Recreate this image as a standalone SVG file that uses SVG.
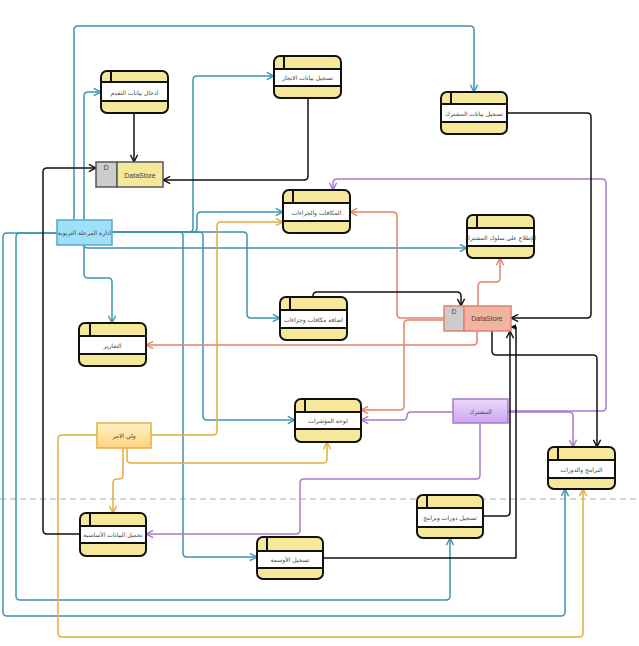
<svg xmlns="http://www.w3.org/2000/svg" width="639" height="646" viewBox="0 0 639 646">
<defs>
<style>
.bg{fill:#ffffff}
.c{fill:none;stroke-width:1.5;stroke-linejoin:round}
.bl{stroke:#3f93b4}
.or{stroke:#e3ad3a}
.pu{stroke:#a57bd0}
.sa{stroke:#e2836a}
.bk{stroke:#111111}
.pf{fill:#f5e89b}
.pb{fill:#ffffff}
.po{fill:none;stroke:#111;stroke-width:2}
.pl{stroke:#111;stroke-width:2}
.t{font-family:"DejaVu Sans","Noto Sans",sans-serif;font-size:6px;fill:#444;text-anchor:middle;dominant-baseline:central}
.ds{font-family:"Liberation Sans",Arial,sans-serif;font-size:7px;text-anchor:middle;dominant-baseline:central}
</style>
<marker id="aBl" viewBox="0 0 10 10" refX="9" refY="5" markerWidth="9" markerHeight="9" markerUnits="userSpaceOnUse" orient="auto"><path d="M1,1 L9,5 L1,9" fill="none" stroke="#3f93b4" stroke-width="1.6"/></marker>
<marker id="aOr" viewBox="0 0 10 10" refX="9" refY="5" markerWidth="9" markerHeight="9" markerUnits="userSpaceOnUse" orient="auto"><path d="M1,1 L9,5 L1,9" fill="none" stroke="#e3ad3a" stroke-width="1.6"/></marker>
<marker id="aPu" viewBox="0 0 10 10" refX="9" refY="5" markerWidth="9" markerHeight="9" markerUnits="userSpaceOnUse" orient="auto"><path d="M1,1 L9,5 L1,9" fill="none" stroke="#a57bd0" stroke-width="1.6"/></marker>
<marker id="aSa" viewBox="0 0 10 10" refX="9" refY="5" markerWidth="9" markerHeight="9" markerUnits="userSpaceOnUse" orient="auto"><path d="M1,1 L9,5 L1,9" fill="none" stroke="#e2836a" stroke-width="1.6"/></marker>
<marker id="aBk" viewBox="0 0 10 10" refX="9" refY="5" markerWidth="9" markerHeight="9" markerUnits="userSpaceOnUse" orient="auto"><path d="M1,1 L9,5 L1,9" fill="none" stroke="#111" stroke-width="1.6"/></marker>
<marker id="aBkF" viewBox="0 0 10 10" refX="9" refY="5" markerWidth="6" markerHeight="6" markerUnits="userSpaceOnUse" orient="auto"><path d="M1,1 L9,5 L1,9 z" fill="#111" stroke="#111"/></marker>
<linearGradient id="gOr" x1="0" y1="0" x2="0" y2="1"><stop offset="0" stop-color="#fff2c8"/><stop offset="1" stop-color="#fdd37f"/></linearGradient>
<linearGradient id="gPu" x1="0" y1="0" x2="0" y2="1"><stop offset="0" stop-color="#ecd9fb"/><stop offset="1" stop-color="#cda6f0"/></linearGradient>
</defs>
<rect class="bg" x="0" y="0" width="639" height="646"/>
<line x1="0" y1="499" x2="639" y2="499" stroke="#aaaaaa" stroke-width="1" stroke-dasharray="6,4"/>

<g id="connectors">
<!-- blue from ادارة المرحلة التربوية -->
<path class="c bl" d="M74,220 V30 Q74,26 78,26 H470 Q474,26 474,30 V92" marker-end="url(#aBl)"/>
<path class="c bl" d="M84,220 V96 Q84,92 88,92 H101" marker-end="url(#aBl)"/>
<path class="c bl" d="M112,232 H189 Q193,232 193,228 V80 Q193,76 197,76 H274" marker-end="url(#aBl)"/>
<path class="c bl" d="M112,232 H193 Q197,232 197,228 V216 Q197,212 201,212 H283" marker-end="url(#aBl)"/>
<path class="c bl" d="M84,245 Q84,248 88,248 H467" marker-end="url(#aBl)"/>
<path class="c bl" d="M84,245 V274 Q84,278 88,278 H108 Q112,278 112,282 V323" marker-end="url(#aBl)"/>
<path class="c bl" d="M112,232 H179 Q183,232 183,236 V553 Q183,557 187,557 H257" marker-end="url(#aBl)"/>
<path class="c bl" d="M112,232 H199 Q203,232 203,236 V416 Q203,420 207,420 H295" marker-end="url(#aBl)"/>
<path class="c bl" d="M112,232 H243 Q247,232 247,236 V314 Q247,318 251,318 H280" marker-end="url(#aBl)"/>
<path class="c bl" d="M57,233 H20 Q16,233 16,237 V596 Q16,600 20,600 H446 Q450,600 450,596 V538" marker-end="url(#aBl)"/>
<path class="c bl" d="M57,233 H7 Q3,233 3,237 V612 Q3,616 7,616 H561 Q565,616 565,612 V489" marker-end="url(#aBl)"/>
<!-- orange from ولي الامر -->
<path class="c or" d="M97,435 H62 Q58,435 58,439 V633 Q58,637 62,637 H579 Q583,637 583,633 V489" marker-end="url(#aOr)"/>
<path class="c or" d="M151,435 H213 Q217,435 217,431 V226 Q217,222 221,222 H283" marker-end="url(#aOr)"/>
<path class="c or" d="M127,448 V459 Q127,463 131,463 H323 Q327,463 327,459 V442" marker-end="url(#aOr)"/>
<path class="c or" d="M123,448 V475 Q123,479 119,479 H117 Q113,479 113,483 V513" marker-end="url(#aOr)"/>
<!-- purple from المشترك -->
<path class="c pu" d="M453,412 H411 Q407,412 407,416 Q407,420 403,420 H361" marker-end="url(#aPu)"/>
<path class="c pu" d="M480,423 V475 Q480,479 476,479 H304 Q300,479 300,483 V530 Q300,534 296,534 H146" marker-end="url(#aPu)"/>
<path class="c pu" d="M508,412 H569 Q573,412 573,416 V447" marker-end="url(#aPu)"/>
<path class="c pu" d="M508,411 H602 Q606,411 606,407 V183 Q606,179 602,179 H337 Q333,179 333,183 V190" marker-end="url(#aPu)"/>
<!-- salmon from DataStore 2 -->
<path class="c sa" d="M444,318 H401 Q397,318 397,314 V216 Q397,212 393,212 H350" marker-end="url(#aSa)"/>
<path class="c sa" d="M444,320 H408 Q404,320 404,324 V406 Q404,410 400,410 H361" marker-end="url(#aSa)"/>
<path class="c sa" d="M477,331 V341 Q477,345 473,345 H146" marker-end="url(#aSa)"/>
<path class="c sa" d="M478,306 V286 Q478,282 482,282 H496 Q500,282 500,278 V258" marker-end="url(#aSa)"/>
<!-- black -->
<path class="c bk" d="M134,113 V162" marker-end="url(#aBk)"/>
<path class="c bk" d="M308,98 V176 Q308,180 304,180 H163" marker-end="url(#aBk)"/>
<path class="c bk" d="M80,534 H47 Q43,534 43,530 V172 Q43,168 47,168 H96" marker-end="url(#aBk)"/>
<path class="c bk" d="M313,297 V296 Q313,292 317,292 H457 Q461,292 461,296 V306" marker-end="url(#aBk)"/>
<path class="c bk" d="M507,113 H587 Q591,113 591,117 V314 Q591,318 587,318 H511" marker-end="url(#aBk)"/>
<path class="c bk" d="M492,331 V351 Q492,355 496,355 H593 Q597,355 597,359 V447" marker-end="url(#aBk)"/>
<path class="c bk" d="M483,516 H506 Q510,516 510,512 V331" marker-end="url(#aBk)"/>
<path class="c bk" d="M323,558 H516 V327 H511" marker-end="url(#aBkF)"/>
</g>

<g id="n1"><rect class="pf" x="101" y="71" width="67" height="42" rx="6"/><rect class="pb" x="102" y="82" width="65" height="19"/><line class="pl" x1="101" y1="82" x2="168" y2="82"/><line class="pl" x1="101" y1="101" x2="168" y2="101"/><line class="pl" x1="111" y1="71" x2="111" y2="82"/><rect class="po" x="101" y="71" width="67" height="42" rx="6"/><text class="t" x="134.5" y="92">ادخال بيانات التقدم</text></g>
<g id="n2"><rect class="pf" x="274" y="56" width="67" height="42" rx="6"/><rect class="pb" x="275" y="69" width="65" height="17"/><line class="pl" x1="274" y1="69" x2="341" y2="69"/><line class="pl" x1="274" y1="86" x2="341" y2="86"/><line class="pl" x1="284" y1="56" x2="284" y2="69"/><rect class="po" x="274" y="56" width="67" height="42" rx="6"/><text class="t" x="307.5" y="77.5">تسجيل بيانات الانجاز</text></g>
<g id="n3"><rect class="pf" x="441" y="92" width="66" height="42" rx="6"/><rect class="pb" x="442" y="104" width="64" height="18"/><line class="pl" x1="441" y1="104" x2="507" y2="104"/><line class="pl" x1="441" y1="122" x2="507" y2="122"/><line class="pl" x1="451" y1="92" x2="451" y2="104"/><rect class="po" x="441" y="92" width="66" height="42" rx="6"/><text class="t" x="474" y="113">تسجيل بيانات المشترك</text></g>
<g id="n4"><rect class="pf" x="283" y="190" width="67" height="43" rx="6"/><rect class="pb" x="284" y="203" width="65" height="18"/><line class="pl" x1="283" y1="203" x2="350" y2="203"/><line class="pl" x1="283" y1="221" x2="350" y2="221"/><line class="pl" x1="293" y1="190" x2="293" y2="203"/><rect class="po" x="283" y="190" width="67" height="43" rx="6"/><text class="t" x="316.5" y="212">المكافات والجزاءات</text></g>
<g id="n5"><rect class="pf" x="467" y="215" width="67" height="43" rx="6"/><rect class="pb" x="468" y="228" width="65" height="18"/><line class="pl" x1="467" y1="228" x2="534" y2="228"/><line class="pl" x1="467" y1="246" x2="534" y2="246"/><line class="pl" x1="477" y1="215" x2="477" y2="228"/><rect class="po" x="467" y="215" width="67" height="43" rx="6"/><text class="t" x="500.5" y="237">الإطلاع على سلوك المشترك</text></g>
<g id="n6"><rect class="pf" x="280" y="297" width="67" height="43" rx="6"/><rect class="pb" x="281" y="310" width="65" height="18"/><line class="pl" x1="280" y1="310" x2="347" y2="310"/><line class="pl" x1="280" y1="328" x2="347" y2="328"/><line class="pl" x1="290" y1="297" x2="290" y2="310"/><rect class="po" x="280" y="297" width="67" height="43" rx="6"/><text class="t" x="313.5" y="319">اضافة مكافات وجزاءات</text></g>
<g id="n7"><rect class="pf" x="79" y="323" width="67" height="43" rx="6"/><rect class="pb" x="80" y="336" width="65" height="18"/><line class="pl" x1="79" y1="336" x2="146" y2="336"/><line class="pl" x1="79" y1="354" x2="146" y2="354"/><line class="pl" x1="90" y1="323" x2="90" y2="336"/><rect class="po" x="79" y="323" width="67" height="43" rx="6"/><text class="t" x="112.5" y="345">التقارير</text></g>
<g id="n8"><rect class="pf" x="295" y="399" width="66" height="43" rx="6"/><rect class="pb" x="296" y="412" width="64" height="17"/><line class="pl" x1="295" y1="412" x2="361" y2="412"/><line class="pl" x1="295" y1="429" x2="361" y2="429"/><line class="pl" x1="305" y1="399" x2="305" y2="412"/><rect class="po" x="295" y="399" width="66" height="43" rx="6"/><text class="t" x="328" y="420.5">لوحة المؤشرات</text></g>
<g id="n9"><rect class="pf" x="548" y="447" width="67" height="42" rx="6"/><rect class="pb" x="549" y="460" width="65" height="18"/><line class="pl" x1="548" y1="460" x2="615" y2="460"/><line class="pl" x1="548" y1="478" x2="615" y2="478"/><line class="pl" x1="558" y1="447" x2="558" y2="460"/><rect class="po" x="548" y="447" width="67" height="42" rx="6"/><text class="t" x="581.5" y="469">البرامج والدورات</text></g>
<g id="n10"><rect class="pf" x="417" y="495" width="66" height="43" rx="6"/><rect class="pb" x="418" y="508" width="64" height="19"/><line class="pl" x1="417" y1="508" x2="483" y2="508"/><line class="pl" x1="417" y1="527" x2="483" y2="527"/><line class="pl" x1="427" y1="495" x2="427" y2="508"/><rect class="po" x="417" y="495" width="66" height="43" rx="6"/><text class="t" x="450" y="517.5">تسجيل دورات وبرامج</text></g>
<g id="n11"><rect class="pf" x="80" y="513" width="66" height="43" rx="6"/><rect class="pb" x="81" y="526" width="64" height="17"/><line class="pl" x1="80" y1="526" x2="146" y2="526"/><line class="pl" x1="80" y1="543" x2="146" y2="543"/><line class="pl" x1="90" y1="513" x2="90" y2="526"/><rect class="po" x="80" y="513" width="66" height="43" rx="6"/><text class="t" x="113" y="534.5">تحميل البيانات الأساسية</text></g>
<g id="n12"><rect class="pf" x="257" y="537" width="66" height="42" rx="6"/><rect class="pb" x="258" y="551" width="64" height="17"/><line class="pl" x1="257" y1="551" x2="323" y2="551"/><line class="pl" x1="257" y1="568" x2="323" y2="568"/><line class="pl" x1="267" y1="537" x2="267" y2="551"/><rect class="po" x="257" y="537" width="66" height="42" rx="6"/><text class="t" x="290" y="559.5">تسجيل الأوسمة</text></g>

<g id="ds1"><rect x="96" y="162" width="21" height="25" fill="#cccccc" stroke="#555" stroke-width="1.5"/><rect x="117" y="162" width="46" height="25" fill="#f5e89b" stroke="#555" stroke-width="1.5"/><text class="ds" x="106" y="167" fill="#444">D</text><text class="ds" x="140" y="175" fill="#444">DataStore</text></g>
<g id="ds2"><rect x="444" y="306" width="20" height="25" fill="#cccccc" stroke="#e2836a" stroke-width="1.5"/><rect x="464" y="306" width="47" height="25" fill="#f1b4a2" stroke="#e2836a" stroke-width="1.5"/><text class="ds" x="454" y="311" fill="#444">D</text><text class="ds" x="487" y="318" fill="#5a3a30">DataStore</text></g>

<g id="e1"><rect x="57" y="220" width="55" height="25" fill="#9ee0f7" stroke="#58a8c8" stroke-width="1.5"/><text class="t" x="84.5" y="232.5">ادارة المرحلة التربوية</text></g>
<g id="e2"><rect x="97" y="423" width="54" height="25" fill="url(#gOr)" stroke="#e8b040" stroke-width="1.5"/><text class="t" x="124" y="435.5">ولي الامر</text></g>
<g id="e3"><rect x="453" y="399" width="55" height="24" fill="url(#gPu)" stroke="#a57bd0" stroke-width="1.5"/><text class="t" x="480.5" y="411">المشترك</text></g>
</svg>
